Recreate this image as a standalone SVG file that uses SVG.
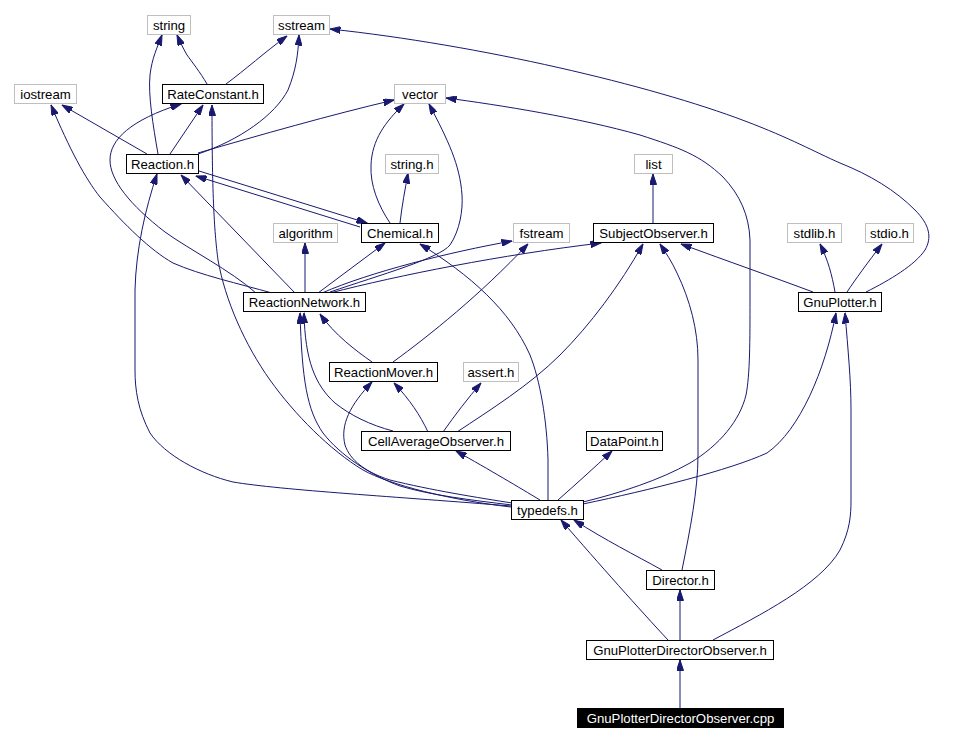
<svg xmlns="http://www.w3.org/2000/svg" width="977" height="742" viewBox="0 0 977 742">
<style>
.n rect{fill:#fff;stroke:#000;stroke-width:1}
.g rect{fill:#fff;stroke:#bfbfbf;stroke-width:1}
text{font-family:"Liberation Sans",Arial,sans-serif;font-size:13.2px;text-anchor:middle;fill:#000}
.e path{fill:none;stroke:#191970;stroke-width:1;marker-end:url(#a)}
</style>
<defs>
<marker id="a" markerWidth="11" markerHeight="7" refX="10.5" refY="3.5" orient="auto" markerUnits="userSpaceOnUse"><path d="M0,0 L10.5,3.5 L0,7 z" fill="#191970" stroke="#191970" stroke-width="1"/></marker>
</defs>
<rect width="977" height="742" fill="#fff"/>
<g class="e" id="edges">
<path d="M158,154 C153,125 148,95 150,75 C152,58 157,48 162,35"/>
<path d="M207,84 C200,72 192,62 187,55 C183,48 180,42 177,35"/>
<path d="M226,84 C245,70 265,52 287,36"/>
<path d="M198,154 C240,140 275,115 288,90 C296,70 298,55 299,35"/>
<path d="M866,292 C890,280 915,265 925,250 C932,238 930,225 915,210 C895,190 870,175 840,163 C815,152 790,138 745,121 C650,85 480,45 330,29"/>
<path d="M147,154 L62,105"/>
<path d="M272,293 C240,284 200,275 173,263 C150,250 125,225 100,197 C85,178 70,150 51,105"/>
<path d="M170,154 L203,105"/>
<path d="M256,293 C230,270 190,250 165,232 C130,205 110,180 110,160 C110,140 130,120 181,104"/>
<path d="M511,507 C450,500 390,485 363,470 C330,450 295,415 270,380 C245,345 225,300 218,260 C214,230 212,190 212,105"/>
<path d="M198,153 C260,135 330,115 394,100"/>
<path d="M390,223 C378,205 370,185 371,165 C372,140 385,122 404,104"/>
<path d="M330,292 C380,275 440,258 450,245 C460,230 463,210 462,195 C460,165 448,140 429,104"/>
<path d="M583,502 C620,493 660,480 690,463 C720,445 740,420 746,395 C750,375 750,340 750,300 L750,240 C749,215 740,195 723,177 C700,155 680,148 640,135 C580,118 500,105 446,98"/>
<path d="M400,223 C402,205 405,190 408,173"/>
<path d="M199,171 L367,223"/>
<path d="M360,227 L196,176"/>
<path d="M295,293 L181,175"/>
<path d="M511,506 C400,497 280,490 233,482 C200,474 165,455 150,433 C138,410 135,390 135,370 L135,290 C136,250 145,210 157,174"/>
<path d="M305,293 L305,243"/>
<path d="M318,293 L385,243"/>
<path d="M322,293 C370,272 450,252 512,241"/>
<path d="M330,293 C400,275 500,255 601,243"/>
<path d="M548,500 L548,460 C547,420 540,380 530,355 C510,310 470,275 420,244"/>
<path d="M393,362 C430,335 480,295 528,244"/>
<path d="M653,223 L653,174"/>
<path d="M457,432 C490,410 530,385 560,355 C590,325 620,285 643,244"/>
<path d="M682,570 C690,530 698,490 698,455 L698,360 C698,330 690,300 677,273 C672,262 666,253 660,244"/>
<path d="M813,292 C770,276 730,262 681,244"/>
<path d="M835,292 C832,275 828,260 820,244"/>
<path d="M847,292 C855,280 868,262 882,244"/>
<path d="M372,362 C355,350 335,335 320,314"/>
<path d="M393,431 C370,425 350,415 335,403 C315,385 305,360 304,313"/>
<path d="M512,505 C470,500 430,495 400,486 C370,475 340,455 323,433 C307,410 302,380 300,313"/>
<path d="M512,503 C480,498 430,490 390,480 C365,472 350,460 345,445 C340,425 350,405 372,382"/>
<path d="M428,432 C420,415 410,400 394,383"/>
<path d="M443,432 C455,415 468,398 481,383"/>
<path d="M540,500 C520,488 490,470 456,451"/>
<path d="M558,500 C575,485 595,467 612,451"/>
<path d="M583,504 C650,490 730,470 767,453 C800,430 825,370 836,313"/>
<path d="M662,570 C635,555 605,540 574,520"/>
<path d="M668,640 C640,610 600,565 561,520"/>
<path d="M680,640 L680,590"/>
<path d="M713,640 C760,615 820,585 840,550 C850,530 851,515 851,500 L851,410 C851,380 848,350 845,313"/>
<path d="M680,708 L680,660"/>
</g>
<g id="string" class="g"><rect x="147.5" y="15.5" width="43" height="19"/><text x="169" y="30">string</text></g>
<g id="sstream" class="g"><rect x="273.5" y="15.5" width="56" height="19"/><text x="301.5" y="30">sstream</text></g>
<g id="iostream" class="g"><rect x="14.5" y="84.5" width="62" height="19"/><text x="45.5" y="99">iostream</text></g>
<g id="RateConstant" class="n"><rect x="162.5" y="84.5" width="101" height="19"/><text x="213" y="99">RateConstant.h</text></g>
<g id="vector" class="g"><rect x="394.5" y="84.5" width="51" height="19"/><text x="420" y="99">vector</text></g>
<g id="Reaction" class="n"><rect x="126.5" y="154.5" width="72" height="19"/><text x="162.5" y="169">Reaction.h</text></g>
<g id="string_h" class="g"><rect x="385.5" y="154.5" width="53" height="19"/><text x="412" y="169">string.h</text></g>
<g id="list" class="g"><rect x="634.5" y="154.5" width="38" height="19"/><text x="653.5" y="169">list</text></g>
<g id="algorithm" class="g"><rect x="273.5" y="223.5" width="64" height="19"/><text x="305.5" y="238">algorithm</text></g>
<g id="Chemical" class="n"><rect x="361.5" y="223.5" width="77" height="19"/><text x="400" y="238">Chemical.h</text></g>
<g id="fstream" class="g"><rect x="513.5" y="223.5" width="56" height="19"/><text x="541.5" y="238">fstream</text></g>
<g id="SubjectObserver" class="n"><rect x="593.5" y="223.5" width="120" height="19"/><text x="653.5" y="238">SubjectObserver.h</text></g>
<g id="stdlib" class="g"><rect x="787.5" y="223.5" width="54" height="19"/><text x="814.5" y="238">stdlib.h</text></g>
<g id="stdio" class="g"><rect x="865.5" y="223.5" width="48" height="19"/><text x="889.5" y="238">stdio.h</text></g>
<g id="ReactionNetwork" class="n"><rect x="243.5" y="292.5" width="122" height="19"/><text x="304.5" y="307">ReactionNetwork.h</text></g>
<g id="GnuPlotter" class="n"><rect x="798.5" y="292.5" width="83" height="19"/><text x="840" y="307">GnuPlotter.h</text></g>
<g id="ReactionMover" class="n"><rect x="329.5" y="362.5" width="108" height="19"/><text x="383.5" y="377">ReactionMover.h</text></g>
<g id="assert" class="g"><rect x="463.5" y="362.5" width="55" height="19"/><text x="491" y="377">assert.h</text></g>
<g id="CellAverageObserver" class="n"><rect x="361.5" y="431.5" width="149" height="19"/><text x="436" y="446">CellAverageObserver.h</text></g>
<g id="DataPoint" class="n"><rect x="586.5" y="431.5" width="76" height="19"/><text x="624.5" y="446">DataPoint.h</text></g>
<g id="typedefs" class="n"><rect x="511.5" y="500.5" width="72" height="19"/><text x="547.5" y="515">typedefs.h</text></g>
<g id="Director" class="n"><rect x="646.5" y="570.5" width="68" height="19"/><text x="680.5" y="585">Director.h</text></g>
<g id="GnuPlotterDirectorObserver_h" class="n"><rect x="586.5" y="640.5" width="187" height="19"/><text x="680" y="655">GnuPlotterDirectorObserver.h</text></g>
<g id="GnuPlotterDirectorObserver_cpp"><rect x="577" y="708" width="207" height="20" fill="#000"/><text x="680.5" y="723" fill="#fff" style="fill:#fff">GnuPlotterDirectorObserver.cpp</text></g>
</svg>
